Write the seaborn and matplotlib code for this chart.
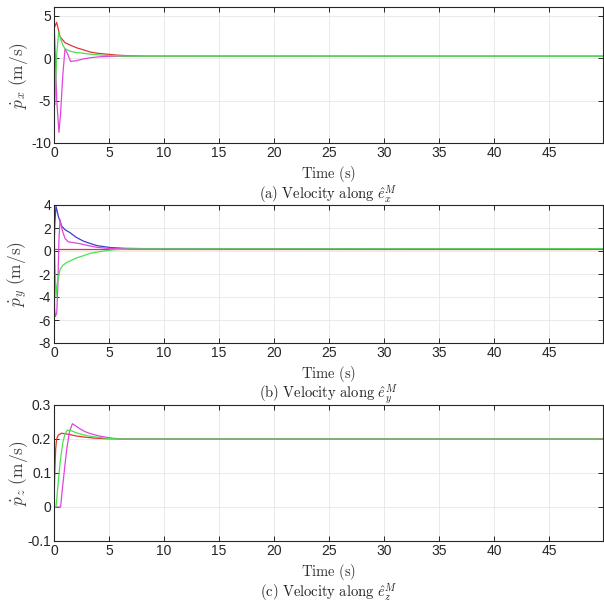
import matplotlib
matplotlib.use('Agg')
import matplotlib.pyplot as plt
import pandas as pd
import seaborn as sns

# ---- data (time in s, velocity in m/s) ----
T_END = 49.9

# (a) velocity along x
red_a_t = [0, 0.24, 0.55, 1.0, 1.5, 2.06, 2.7, 3.3, 4.0, 4.8, 5.8, 7.0, 8.5, T_END]
red_a_v = [3.5, 4.2, 2.5, 1.8, 1.5, 1.2, 0.95, 0.7, 0.55, 0.45, 0.33, 0.25, 0.21, 0.2]
mag_a_t = [0, 0.1, 0.25, 0.45, 0.6, 0.8, 1.0, 1.2, 1.5, 1.9, 2.7, 3.4, 4.2, 5.5, T_END]
mag_a_v = [4.4, 1.0, -5.0, -8.75, -6.5, -2.0, 1.06, 0.6, -0.4, -0.35, -0.1, 0.05, 0.15, 0.2, 0.2]
grn_a_t = [0, 0.08, 0.25, 0.42, 0.6, 0.8, 1.0, 1.45, 2.0, 2.7, 3.5, 4.8, 6.0, 7.5, T_END]
grn_a_v = [-5.2, -5.5, 0.5, 3.0, 2.3, 1.5, 1.1, 0.8, 0.65, 0.55, 0.42, 0.3, 0.24, 0.21, 0.2]

# (b) velocity along y
red_b_t = [0, T_END]
red_b_v = [0.2, 0.2]
blu_b_t = [0, 0.08, 0.18, 0.4, 0.7, 1.0, 1.45, 2.0, 2.67, 3.3, 3.9, 5.1, 6.5, 8.0, T_END]
blu_b_v = [0.2, 2.5, 3.9, 3.0, 2.17, 1.85, 1.6, 1.2, 0.86, 0.65, 0.47, 0.3, 0.23, 0.21, 0.2]
mag_b_t = [0, 0.05, 0.12, 0.25, 0.35, 0.45, 0.55, 0.75, 1.0, 1.3, 2.4, 3.2, 3.9, 5.0, 6.5, T_END]
mag_b_v = [0.2, -5.0, -5.7, -5.4, -3.0, 1.0, 2.7, 1.8, 1.1, 0.8, 0.63, 0.45, 0.32, 0.22, 0.2, 0.2]
grn_b_t = [0, 0.05, 0.18, 0.3, 0.55, 0.8, 1.15, 1.6, 2.06, 2.7, 3.3, 4.5, 5.5, 7.0, T_END]
grn_b_v = [4.0, 0.0, -4.0, -2.8, -1.6, -1.25, -1.0, -0.8, -0.6, -0.4, -0.2, 0.0, 0.12, 0.18, 0.2]

# (c) velocity along z
red_c_t = [0, 0.05, 0.09, 0.15, 0.24, 0.4, 0.7, 1.45, 2.0, 2.67, 3.5, 4.5, 6.0, T_END]
red_c_v = [0, 0.08, 0.12, 0.17, 0.2, 0.212, 0.217, 0.213, 0.209, 0.206, 0.203, 0.201, 0.2, 0.2]
mag_c_t = [0, 0.6, 0.75, 0.95, 1.15, 1.4, 1.67, 2.0, 2.36, 2.8, 3.27, 4.2, 5.4, 6.5, T_END]
mag_c_v = [0, 0, 0.05, 0.11, 0.169, 0.22, 0.245, 0.238, 0.23, 0.222, 0.216, 0.208, 0.202, 0.2, 0.2]
grn_c_t = [0, 0.18, 0.35, 0.55, 0.8, 1.0, 1.2, 1.6, 2.06, 2.7, 3.3, 4.0, 4.8, 6.0, T_END]
grn_c_v = [0, 0, 0.06, 0.13, 0.19, 0.215, 0.226, 0.224, 0.218, 0.212, 0.208, 0.205, 0.202, 0.2, 0.2]

x_ticks = [0, 5, 10, 15, 20, 25, 30, 35, 40, 45]

cols = {'red': '#e03535', 'blue': '#3c3cd2', 'magenta': '#e045e0', 'green': '#4fe04f'}


def frame(curves):
    parts = []
    for name, t, v in curves:
        parts.append(pd.DataFrame({'t': t, 'v': v, 'agent': name}))
    return pd.concat(parts, ignore_index=True)


panels = [
    dict(df=frame([('red', red_a_t, red_a_v), ('magenta', mag_a_t, mag_a_v),
                   ('green', grn_a_t, grn_a_v)]),
         ylim=(-10, 6), yticks=[-10, -5, 0, 5],
         ylabel=r'$\dot{p}_x\ \mathrm{(m/s)}$',
         cap=r'$\mathrm{(a)\ Velocity\ along\ }\hat{e}_x^M$',
         box=(54, 7, 603, 143)),
    dict(df=frame([('red', red_b_t, red_b_v), ('blue', blu_b_t, blu_b_v),
                   ('magenta', mag_b_t, mag_b_v), ('green', grn_b_t, grn_b_v)]),
         ylim=(-8, 4), yticks=[-8, -6, -4, -2, 0, 2, 4],
         ylabel=r'$\dot{p}_y\ \mathrm{(m/s)}$',
         cap=r'$\mathrm{(b)\ Velocity\ along\ }\hat{e}_y^M$',
         box=(54, 205, 603, 343)),
    dict(df=frame([('red', red_c_t, red_c_v), ('magenta', mag_c_t, mag_c_v),
                   ('green', grn_c_t, grn_c_v)]),
         ylim=(-0.1, 0.3), yticks=[-0.1, 0, 0.1, 0.2, 0.3],
         ylabel=r'$\dot{p}_z\ \mathrm{(m/s)}$',
         cap=r'$\mathrm{(c)\ Velocity\ along\ }\hat{e}_z^M$',
         box=(54, 405, 603, 541)),
]

sns.set_theme(style='ticks')
plt.rcParams['font.family'] = ['Liberation Sans', 'DejaVu Sans']
plt.rcParams['mathtext.fontset'] = 'cm'
plt.rcParams['axes.unicode_minus'] = False

W, H = 604, 607
fig = plt.figure(figsize=(W / 100, H / 100), dpi=100)
fig.patch.set_facecolor('white')

for p in panels:
    x0, y0, x1, y1 = p['box']
    ax = fig.add_axes([x0 / W, 1 - y1 / H, (x1 - x0) / W, (y1 - y0) / H])
    order = list(dict.fromkeys(p['df']['agent']))
    sns.lineplot(data=p['df'], x='t', y='v', hue='agent', hue_order=order,
                 palette=cols, estimator=None, sort=False, legend=False,
                 lw=0.9, ax=ax)
    ax.set_xlim(0, T_END)
    ax.set_ylim(*p['ylim'])
    ax.set_xticks(x_ticks)
    ax.set_yticks(p['yticks'])
    ax.set_yticklabels([f'{v:g}' for v in p['yticks']])
    ax.grid(True, color='#e6e6e6', lw=0.6)
    ax.set_axisbelow(True)
    ax.tick_params(direction='in', length=3.5, width=0.7, top=True, right=True,
                   labelsize=10, colors='#262626', pad=2)
    for s in ax.spines.values():
        s.set_visible(True)
        s.set_color('#262626')
        s.set_linewidth(0.8)
    ax.set_xlabel('')
    ax.set_ylabel(p['ylabel'], fontsize=12.5, color='#404040')
    ax.yaxis.set_label_coords(-24 / (x1 - x0), 0.5)
    ax.annotate(r'$\mathrm{Time\ (s)}$', xy=(0.5, 0), xycoords='axes fraction',
                xytext=(0, -31 * 0.72), textcoords='offset points',
                ha='center', va='center', fontsize=10.5, color='#303030')
    ax.annotate(p['cap'], xy=(0.5, 0), xycoords='axes fraction',
                xytext=(0, -51 * 0.72), textcoords='offset points',
                ha='center', va='center', fontsize=10.5, color='#202020')

fig.savefig('out.png', dpi=100)
